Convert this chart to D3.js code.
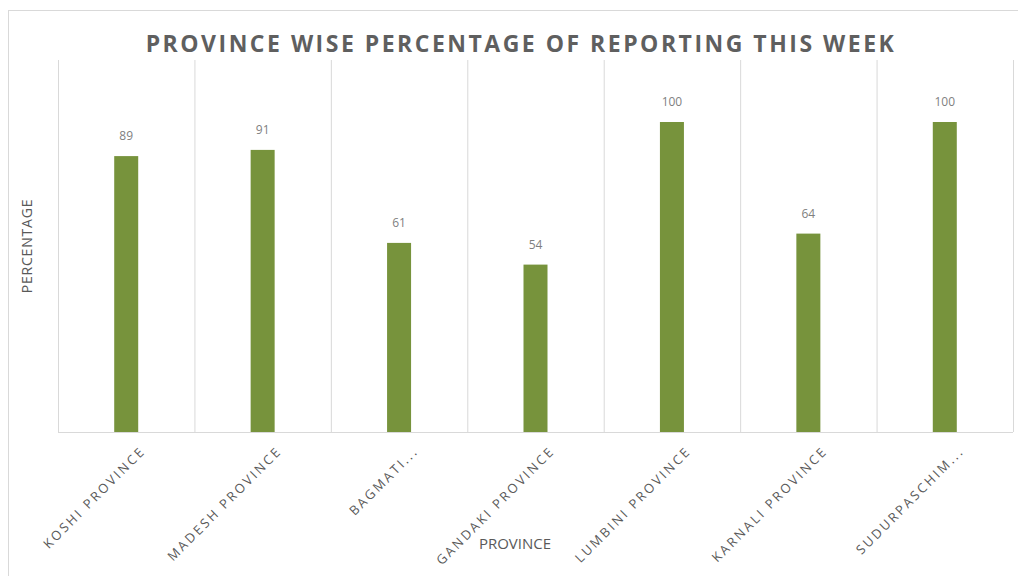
<!DOCTYPE html>
<html>
<head>
    <script type="text/javascript" src="https://d3js.org/d3.v7.min.js"></script>
    <style>
        body { margin: 0; background: white; }
    </style>
</head>
<body>
    <div id="chart"></div>
    <script type="text/javascript">
        // chart data
        const provinces = ["KOSHI PROVINCE", "MADESH PROVINCE", "BAGMATI...", "GANDAKI PROVINCE",
                           "LUMBINI PROVINCE", "KARNALI PROVINCE", "SUDURPASCHIM..."];
        const percentages = [89, 91, 61, 54, 100, 64, 100];
        const yMax = 120;

        const width = 1018, height = 576;
        const plotLeft = 58, plotRight = 1013, plotTop = 60, plotBottom = 432;
        const barColor = "#77933c";
        const textColor = "#595959";

        let svg = d3.select("#chart")
            .append("svg")
            .attr("width", width)
            .attr("height", height)
            .style("background-color", "white");

        // outer chart border
        svg.append("rect")
            .attr("x", 8.5).attr("y", 10.5)
            .attr("width", 1030).attr("height", 600)
            .attr("fill", "none")
            .attr("stroke", "#d9d9d9");

        const x = d3.scaleBand().domain(provinces).range([plotLeft, plotRight]);
        const y = d3.scaleLinear().domain([0, yMax]).range([plotBottom, plotTop]);

        // vertical gridlines between categories
        const edges = provinces.map(p => x(p)).concat([plotRight]);
        svg.selectAll("line.grid")
            .data(edges)
            .enter()
            .append("line")
            .attr("x1", d => d + 0.5).attr("x2", d => d + 0.5)
            .attr("y1", y(yMax)).attr("y2", y(0))
            .attr("stroke", "#d9d9d9");

        // baseline
        svg.append("line")
            .attr("x1", plotLeft).attr("x2", plotRight)
            .attr("y1", y(0) + 0.5).attr("y2", y(0) + 0.5)
            .attr("stroke", "#d9d9d9");

        const barW = 24;
        svg.selectAll("rect.bar")
            .data(percentages)
            .enter()
            .append("rect")
            .attr("x", (d, i) => x(provinces[i]) + x.bandwidth() / 2 - barW / 2)
            .attr("y", d => y(d))
            .attr("width", barW)
            .attr("height", d => y(0) - y(d))
            .attr("fill", barColor);

        // value labels
        svg.selectAll("text.value")
            .data(percentages)
            .enter()
            .append("text")
            .attr("x", (d, i) => x(provinces[i]) + x.bandwidth() / 2)
            .attr("y", d => y(d) - 16)
            .attr("text-anchor", "middle")
            .style("font-family", "'Liberation Sans Narrow', 'Open Sans', sans-serif")
            .style("font-size", "12px")
            .style("fill", "#7f7f7f")
            .text(d => d);

        // category labels, rotated
        svg.selectAll("text.cat")
            .data(provinces)
            .enter()
            .append("text")
            .attr("transform", d => `translate(${x(d) + x.bandwidth() / 2 + 20},${y(0) + 20}) rotate(-45)`)
            .attr("text-anchor", "end")
            .style("font-family", "'Open Sans', sans-serif")
            .style("font-size", "13px")
            .style("letter-spacing", "2.4px")
            .style("fill", textColor)
            .text(d => d);

        // title
        svg.append("text")
            .attr("x", 521)
            .attr("y", 52)
            .attr("text-anchor", "middle")
            .style("font-family", "'Open Sans', sans-serif")
            .style("font-weight", "bold")
            .style("font-size", "23px")
            .style("letter-spacing", "2.5px")
            .style("fill", "#5f5f5f")
            .text("PROVINCE WISE PERCENTAGE OF REPORTING THIS WEEK");

        // axis titles
        svg.append("text")
            .attr("transform", "translate(32,246) rotate(-90)")
            .attr("text-anchor", "middle")
            .style("font-family", "'Open Sans', sans-serif")
            .style("font-size", "14px")
            .style("letter-spacing", "0.8px")
            .style("fill", textColor)
            .text("PERCENTAGE");

        svg.append("text")
            .attr("x", 515)
            .attr("y", 549)
            .attr("text-anchor", "middle")
            .style("font-family", "'Open Sans', sans-serif")
            .style("font-size", "15px")
            .style("fill", textColor)
            .text("PROVINCE");
    </script>
</body>
</html>
